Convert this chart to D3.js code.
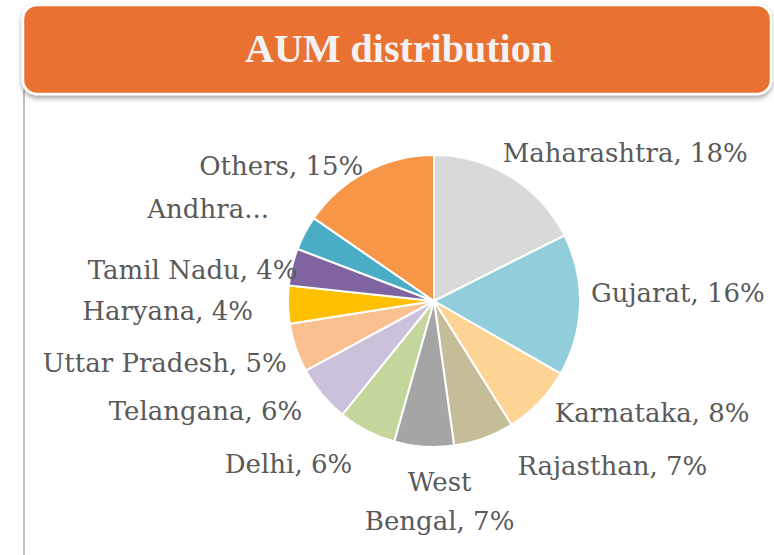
<!DOCTYPE html>
<html>
<head>
<meta charset="utf-8">
<script src="https://cdn.jsdelivr.net/npm/d3@7"></script>
<style>
  body { margin: 0; background: #fff; }
  text { font-family: "DejaVu Serif", "Liberation Serif", serif; }
  text.title { font-family: "Liberation Serif", serif; }
</style>
</head>
<body>
<div id="chart"></div>
<script>
// Data (share of AUM, %)
const states = ['Maharashtra', 'Gujarat', 'Karnataka', 'Rajasthan', 'West Bengal', 'Delhi',
    'Telangana', 'Uttar Pradesh', 'Haryana', 'Tamil Nadu', 'Andhra Pradesh', 'Others'];
const shares = [17.6, 15.7, 7.8, 6.7, 6.6, 6.4, 6.3, 5.4, 4.2, 4.1, 3.8, 15.4];
const labelText = ['Maharashtra, 18%', 'Gujarat, 16%', 'Karnataka, 8%', 'Rajasthan, 7%',
    ['West', 'Bengal, 7%'], 'Delhi, 6%', 'Telangana, 6%', 'Uttar Pradesh, 5%',
    'Haryana, 4%', 'Tamil Nadu, 4%', 'Andhra...', 'Others, 15%'];
const colors = ['#D9D9D9', '#92CDDC', '#FDD493', '#C4BD97', '#A5A5A5', '#C3D69B',
    '#CCC1DA', '#FAC090', '#FFC000', '#8064A2', '#4BACC6', '#F79646'];

// layout: nudges of each label away from its arc point (Excel's best fit placement)
const labelNudge = [[-18, 1], [-8, -4], [2, 7], [27, 19], [17, 25], [-6, 25],
    [-5, 13], [9, 18], [-16, 15], [24, 17], [-19, -6], [6, 20]];

const width = 774, height = 555;
const cx = 434, cy = 301, radius = 146, labelRadius = 165;

const svg = d3.select('#chart')
    .append('svg')
    .attr('width', width)
    .attr('height', height);

const defs = svg.append('defs');
const shadow = defs.append('filter').attr('id', 'shadow')
    .attr('x', '-5%').attr('y', '-20%').attr('width', '110%').attr('height', '150%');
shadow.append('feDropShadow')
    .attr('dx', 0).attr('dy', 3).attr('stdDeviation', 2.5)
    .attr('flood-color', '#000').attr('flood-opacity', 0.35);

// left rule
svg.append('line')
    .attr('x1', 24).attr('x2', 24)
    .attr('y1', 90).attr('y2', height)
    .attr('stroke', '#BFBFBF')
    .attr('stroke-width', 2);

// title banner
svg.append('rect')
    .attr('x', 23).attr('y', 5)
    .attr('width', 748).attr('height', 89)
    .attr('rx', 14)
    .attr('fill', '#E97132')
    .attr('stroke', '#fff')
    .attr('stroke-width', 2.5)
    .attr('filter', 'url(#shadow)');

svg.append('text')
    .attr('class', 'title')
    .attr('x', 399).attr('y', 62)
    .attr('text-anchor', 'middle')
    .attr('fill', '#F2F2F2')
    .attr('font-size', 40)
    .attr('font-weight', 'bold')
    .text('AUM distribution');

// pie
const pie = d3.pie().sort(null).value(d => d.value);
const data = states.map((s, i) => ({
    name: s, value: shares[i], label: labelText[i], color: colors[i], nudge: labelNudge[i]
}));
const arcs = pie(data);

const arc = d3.arc().innerRadius(0).outerRadius(radius);
const labelArc = d3.arc().innerRadius(labelRadius).outerRadius(labelRadius);

const g = svg.append('g').attr('transform', `translate(${cx},${cy})`);

g.selectAll('.slice')
    .data(arcs)
    .enter()
    .append('path')
    .attr('class', 'slice')
    .attr('d', arc)
    .attr('fill', d => d.data.color)
    .attr('stroke', '#fff')
    .attr('stroke-width', 2);

g.selectAll('.label')
    .data(arcs)
    .enter()
    .append('text')
    .attr('class', 'label')
    .attr('fill', '#595959')
    .attr('font-size', 26)
    .each(function (d) {
        const [x, y] = labelArc.centroid(d);
        const mid = (d.startAngle + d.endAngle) / 2;
        const anchor = Math.abs(Math.sin(mid)) < 0.15 ? 'middle' : (Math.sin(mid) > 0 ? 'start' : 'end');
        const lines = Array.isArray(d.data.label) ? d.data.label : [d.data.label];
        const t = d3.select(this)
            .attr('text-anchor', anchor)
            .attr('transform', `translate(${x + d.data.nudge[0]},${y + d.data.nudge[1]})`);
        lines.forEach((line, i) => {
            t.append('tspan')
                .attr('x', 0)
                .attr('y', i * 39)
                .text(line);
        });
    });
</script>
</body>
</html>
